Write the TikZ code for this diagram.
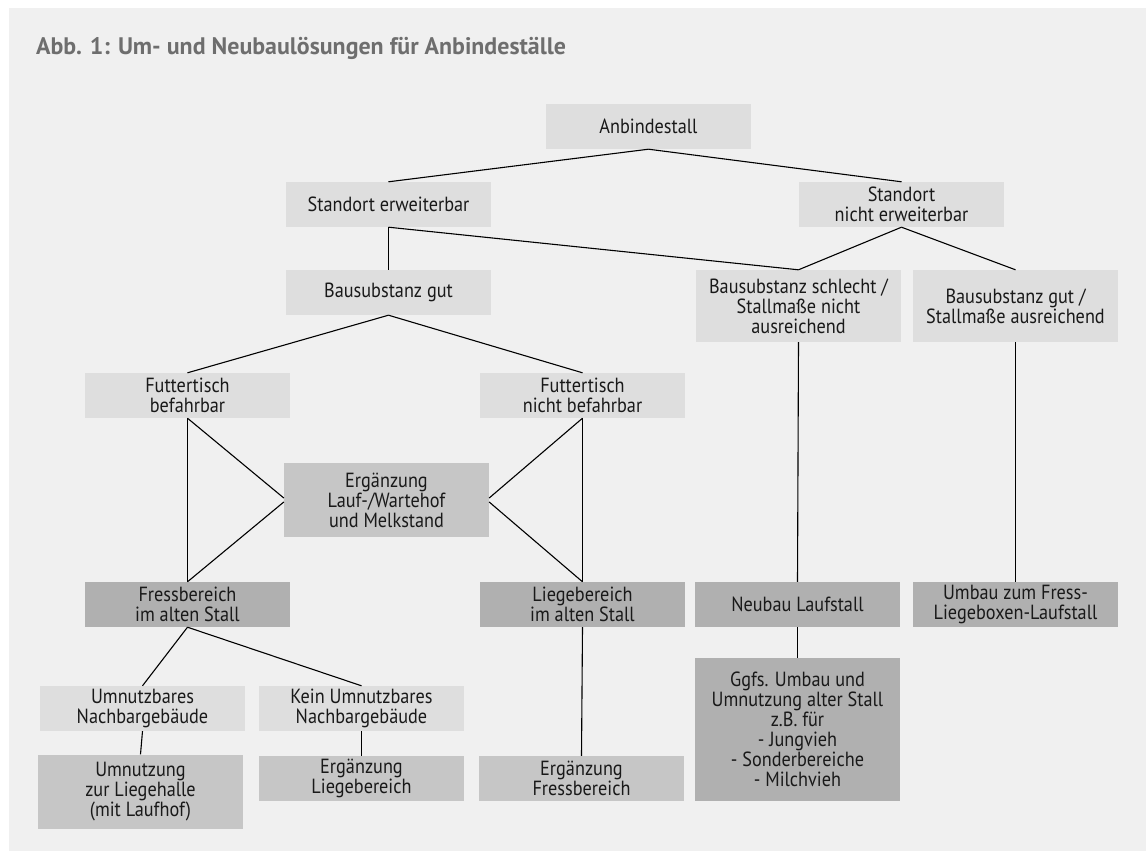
\documentclass[tikz,border=0pt]{standalone}
\usepackage{fontspec}
\setmainfont{PT Sans}[FakeStretch=0.89]
\newfontfamily\titlefont{PT Sans}
\usepackage{tikz}
\usepackage{xcolor}
\definecolor{panelgray}{HTML}{F0F0F0}
\definecolor{boxlight}{HTML}{DEDEDE}
\definecolor{boxmid}{HTML}{C6C6C6}
\definecolor{boxdark}{HTML}{B0B0B0}
\definecolor{titlegray}{HTML}{6E6E6E}
\tikzstyle{stallbox} = [rectangle, inner sep=0pt, minimum width=205pt,
    minimum height=45pt, align=center, text=black!90,
    font=\fontsize{20.5}{20}\selectfont]
\tikzstyle{lightbox} = [stallbox, fill=boxlight]
\tikzstyle{midbox} = [stallbox, fill=boxmid]
\tikzstyle{darkbox} = [stallbox, fill=boxdark]
\tikzstyle{link} = [draw=black, line width=1.1pt]
\tikzstyle{figtitle} = [text=titlegray, inner sep=0pt, anchor=base west,
    font=\titlefont\fontsize{23.9}{28}\selectfont\bfseries]

\begin{document}
\begin{tikzpicture}[x=1pt, y=-1pt]
\useasboundingbox (0,0) rectangle (1146,851);
\fill[white] (0,0) rectangle (1146,851);
\fill[panelgray] (9,8) rectangle (1146,851);
\node[figtitle] (title) at (36,55) {Abb. 1: Um- und Neubaulösungen für Anbindeställe};

% Standort
\node[lightbox] (anb) at (648.5,126.5) {Anbindestall};
\node[lightbox] (serw) at (388.5,204.5) {Standort erweiterbar};
\node[lightbox] (snicht) at (901.5,204.5) {Standort\\nicht erweiterbar};

% Bausubstanz
\node[lightbox] (bgut) at (388.5,292.5) {Bausubstanz gut};
\node[lightbox, minimum height=72pt] (bschlecht) at (798.5,306)
    {Bausubstanz schlecht /\\Stallmaße nicht\\ausreichend};
\node[lightbox, minimum height=72pt] (bausr) at (1015.5,306)
    {Bausubstanz gut /\\Stallmaße ausreichend};

% Futtertisch
\node[lightbox] (ftb) at (187.5,395.5) {Futtertisch\\befahrbar};
\node[lightbox] (ftnb) at (582.5,395.5) {Futtertisch\\nicht befahrbar};
\node[midbox, minimum height=74pt] (erg) at (386.5,500)
    {Ergänzung\\Lauf-/Wartehof\\und Melkstand};

% Bereiche im alten Stall / Neubau
\node[darkbox] (fress) at (187.5,604.5) {Fressbereich\\im alten Stall};
\node[darkbox] (liege) at (582.5,604.5) {Liegebereich\\im alten Stall};
\node[darkbox] (neubau) at (797.5,604.5) {Neubau Laufstall};
\node[darkbox] (umbau) at (1015.5,604.5) {Umbau zum Fress-\\Liegeboxen-Laufstall};

% Nachbargebaeude
\node[lightbox] (unb) at (142.5,708.5) {Umnutzbares\\Nachbargebäude};
\node[lightbox] (kunb) at (361.5,708.5) {Kein Umnutzbares\\Nachbargebäude};

% Ergebnisse
\node[midbox, minimum height=74pt] (umn) at (140.5,791.5)
    {Umnutzung\\zur Liegehalle\\(mit Laufhof)};
\node[midbox] (ergl) at (361.5,778.5) {Ergänzung\\Liegebereich};
\node[midbox] (ergf) at (581.5,778.5) {Ergänzung\\Fressbereich};
\node[darkbox, minimum height=143pt] (ggfs) at (797.5,729.5)
    {Ggfs. Umbau und\\Umnutzung alter Stall\\z.B. für\\- Jungvieh\\- Sonderbereiche\\- Milchvieh};

% Verbindungen
\draw[link] (anb.south) -- (serw.north);
\draw[link] (anb.south) -- (snicht.north);
\draw[link] (serw.south) -- (bgut.north);
\draw[link] (serw.south) -- (bschlecht.north);
\draw[link] (snicht.south) -- (bschlecht.north);
\draw[link] (snicht.south) -- (bausr.north);
\draw[link] (bschlecht.south) -- (neubau.north);
\draw[link] (bausr.south) -- (umbau.north);
\draw[link] (bgut.south) -- (ftb.north);
\draw[link] (bgut.south) -- (ftnb.north);
\draw[link] (ftb.south) -- (fress.north);
\draw[link] (ftb.south) -- ([yshift=2pt]erg.west);
\draw[link] ([yshift=-2pt]erg.west) -- (fress.north);
\draw[link] (ftnb.south) -- (liege.north);
\draw[link] (ftnb.south) -- ([yshift=2pt]erg.east);
\draw[link] ([yshift=-2pt]erg.east) -- (liege.north);
\draw[link] (fress.south) -- (unb.north);
\draw[link] (fress.south) -- (kunb.north);
\draw[link] (unb.south) -- (umn.north);
\draw[link] (kunb.south) -- (ergl.north);
\draw[link] (liege.south) -- (ergf.north);
\draw[link] (neubau.south) -- (ggfs.north);
\end{tikzpicture}
\end{document}
